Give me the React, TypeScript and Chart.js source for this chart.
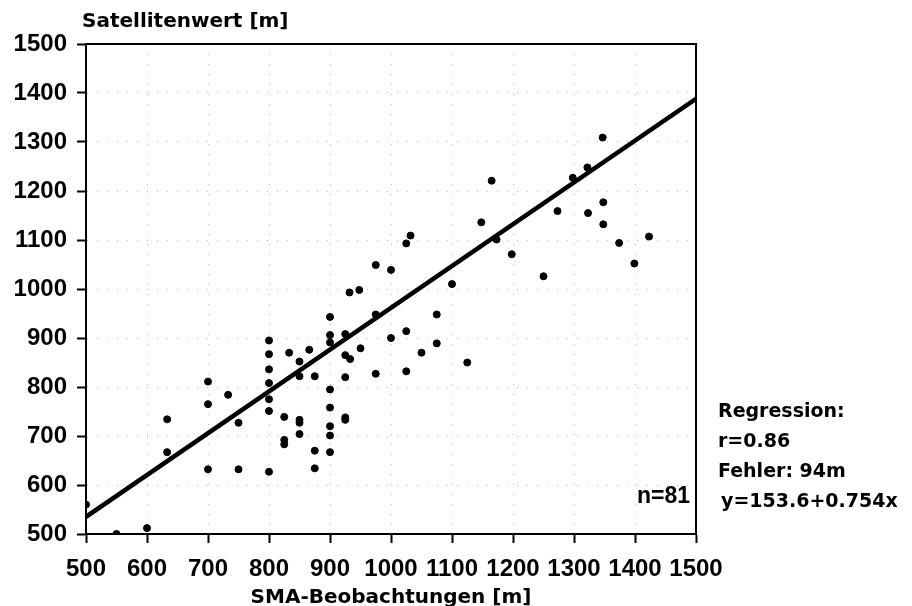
import React, { useEffect, useRef } from "react";
import { Chart, registerables } from "chart.js";

Chart.register(...registerables);

// SMA observation (x) vs satellite value (y), metres
const smaValues: number[] = [
  500, 550, 600, 633, 633, 700, 700, 700, 733, 750, 750,
  800, 800, 800, 800, 800, 800, 800, 833, 850, 850, 825, 825, 825,
  850, 850, 850, 866, 875, 875, 875,
  900, 900, 900, 900, 900, 900, 900, 900,
  925, 925, 933, 925, 925, 925, 932, 948, 950, 975, 1000, 975, 975,
  1000, 1025, 1025, 1050, 1075, 1075, 1100, 1125,
  1025, 1032, 1165, 1148, 1173, 1198, 1250, 1273, 1298, 1322, 1323,
  1347, 1348, 1348, 1374, 1423, 1399,
];
const satValues: number[] = [
  560, 500, 512, 734, 667, 811, 765, 632, 784, 727, 632,
  895, 867, 836, 808, 775, 751, 627, 870, 852, 822, 739, 692, 683,
  733, 727, 704, 876, 822, 670, 634,
  943, 906, 891, 795, 758, 720, 701, 667,
  908, 865, 857, 820, 738, 733, 993, 998, 879, 1049, 1039, 948, 827,
  900, 914, 832, 870, 948, 889, 1010, 850,
  1093, 1109, 1221, 1136, 1101, 1071, 1026, 1159, 1227, 1248, 1155,
  1309, 1177, 1132, 1094, 1107, 1052,
];

// regression line as drawn in the figure (endpoints)
const lineX: number[] = [500, 1500];
const lineY: number[] = [535, 1388];

const yAxisTitle = "Satellitenwert [m]";
const xAxisTitle = "SMA-Beobachtungen [m]";
const nLabel = "n=81";
const regressionText: string[] = [
  "Regression:",
  "r=0.86",
  "Fehler: 94m",
  "y=153.6+0.754x",
];

const TICK_FONT = "'Liberation Sans', Arial, Helvetica, sans-serif";
const TEXT_FONT = "'DejaVu Sans', 'Liberation Sans', Arial, sans-serif";

const textPlugin = {
  id: "extraText",
  afterDraw(chart: any) {
    const { ctx, chartArea } = chart;
    const { left, right, top, bottom } = chartArea;
    ctx.save();
    // frame top and right
    ctx.strokeStyle = "#000";
    ctx.lineWidth = 2;
    ctx.beginPath();
    ctx.moveTo(left, top);
    ctx.lineTo(right, top);
    ctx.lineTo(right, bottom);
    ctx.stroke();

    ctx.fillStyle = "#000";
    ctx.textBaseline = "middle";
    ctx.font = `bold 20px ${TEXT_FONT}`;
    ctx.textAlign = "left";
    ctx.fillText(yAxisTitle, left - 4, top - 22);

    ctx.textAlign = "center";
    ctx.fillText(xAxisTitle, (left + right) / 2, bottom + 64);

    ctx.font = `bold 23px ${TICK_FONT}`;
    ctx.textAlign = "right";
    ctx.fillText(nLabel, right - 6, bottom - 37);

    ctx.font = `bold 19px ${TEXT_FONT}`;
    ctx.textAlign = "left";
    regressionText.forEach((t, i) => {
      ctx.fillText(t, right + 22 + (i === 3 ? 3 : 0), bottom - 122 + i * 30);
    });
    ctx.restore();
  },
};

const plain = (v: any) => String(v);

export default function App() {
  const ref = useRef<HTMLCanvasElement | null>(null);

  useEffect(() => {
    if (!ref.current) return;
    const points = smaValues.map((x, i) => ({ x, y: satValues[i] }));
    const linePts = lineX.map((x, i) => ({ x, y: lineY[i] }));
    const gridOpts: any = {
      color: "rgba(0,0,0,0.28)",
      lineWidth: 1,
      tickLength: 9,
      tickColor: "#000",
      tickWidth: 2,
      tickBorderDash: [],
    };
    const chart = new Chart(ref.current, {
      type: "scatter",
      data: {
        datasets: [
          {
            type: "scatter",
            label: "Beobachtungen",
            data: points,
            backgroundColor: "#000",
            borderColor: "#000",
            pointRadius: 3.5,
            pointStyle: "circle",
          },
          {
            type: "line",
            label: "Regression",
            data: linePts,
            borderColor: "#000",
            borderWidth: 4.5,
            pointRadius: 0,
            fill: false,
          } as any,
        ],
      },
      options: {
        responsive: false,
        animation: false,
        devicePixelRatio: 1,
        layout: { padding: { top: 44, right: 216, left: 0, bottom: 0 } },
        plugins: {
          legend: { display: false },
          tooltip: { enabled: false },
          title: { display: false },
        },
        scales: {
          x: {
            type: "linear",
            min: 500,
            max: 1500,
            afterFit: (s: any) => {
              s.height = 72;
            },
            ticks: {
              stepSize: 100,
              autoSkip: false,
              maxRotation: 0,
              minRotation: 0,
              padding: 12,
              color: "#000",
              callback: plain,
              font: { family: TICK_FONT, size: 24, weight: "bold" },
            },
            grid: gridOpts,
            border: { display: true, color: "#000", width: 2, dash: [1, 9] },
          },
          y: {
            type: "linear",
            min: 500,
            max: 1500,
            afterFit: (s: any) => {
              s.width = 86;
            },
            ticks: {
              stepSize: 100,
              autoSkip: false,
              padding: 10,
              color: "#000",
              callback: plain,
              font: { family: TICK_FONT, size: 24, weight: "bold" },
            },
            grid: gridOpts,
            border: { display: true, color: "#000", width: 2, dash: [1, 9] },
          },
        },
      },
      plugins: [textPlugin],
    });
    return () => chart.destroy();
  }, []);

  return (
    <div style={{ position: "absolute", left: 0, top: 0, width: 912, height: 606, background: "#fff" }}>
      <canvas ref={ref} width={912} height={606} style={{ width: 912, height: 606, display: "block" }} />
    </div>
  );
}
